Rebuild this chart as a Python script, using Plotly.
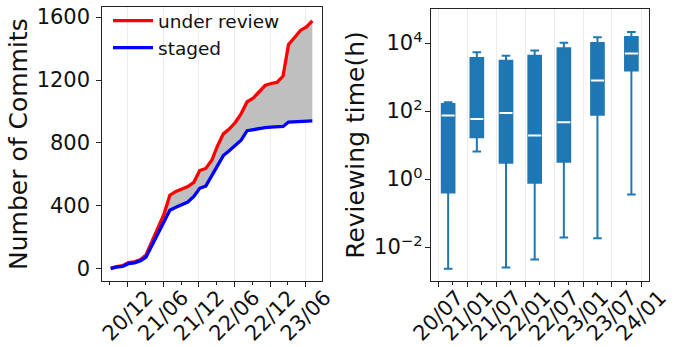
import plotly.graph_objects as go

# ---- left panel data: cumulative commits per month ----
months = ["2020-09-05", "2020-10-05", "2020-11-05", "2020-12-05", "2021-01-05", "2021-02-05",
          "2021-03-05", "2021-04-05", "2021-05-05", "2021-06-05", "2021-07-05", "2021-08-05",
          "2021-09-05", "2021-10-05", "2021-11-05", "2021-12-05", "2022-01-05", "2022-02-05",
          "2022-03-05", "2022-04-05", "2022-05-05", "2022-06-05", "2022-07-05", "2022-08-05",
          "2022-09-05", "2022-10-05", "2022-11-05", "2022-12-05", "2023-01-05", "2023-02-05",
          "2023-03-05", "2023-04-05", "2023-05-05", "2023-06-05", "2023-07-05"]
under_review = [3, 15, 20, 40, 45, 60, 88, 175, 252, 348, 468, 492, 508, 523, 550, 625, 638, 690,
                778, 858, 888, 930, 985, 1062, 1085, 1125, 1165, 1178, 1185, 1225, 1425, 1470,
                1515, 1538, 1576]
staged = [2, 12, 16, 33, 38, 52, 75, 152, 215, 295, 372, 392, 407, 425, 460, 512, 526, 592,
          660, 720, 750, 783, 818, 878, 885, 890, 897, 900, 902, 905, 933, 935, 936, 938, 941]
left_yticks = [0, 400, 800, 1200, 1600]

# ---- right panel data: reviewing time box statistics (hours) ----
box_dates = ["2020-09-01", "2021-03-01", "2021-09-01", "2022-03-01", "2022-09-01",
             "2023-04-01", "2023-11-01"]
lower_fence = [0.0023, 6.4, 0.0025, 0.0043, 0.019, 0.018, 0.35]
q1 = [0.4, 17, 3.0, 0.78, 3.2, 77, 1560]
median = [74, 58, 87, 19, 47, 790, 4900]
q3 = [160, 3650, 3000, 4250, 7000, 10000, 15100]
upper_fence = [182, 5300, 4250, 6000, 10200, 14800, 21000]
right_yticks = [1e-2, 1, 1e2, 1e4]
right_yticktext = ["10<sup>\u22122</sup>", "10<sup>0</sup>", "10<sup>2</sup>", "10<sup>4</sup>"]

FONT = "DejaVu Sans"
BLUE = "#1f77b4"
W, H = 675, 347
TICK_SIZE = 21
TITLE_SIZE = 25

fig = go.Figure()

# fill between curves
fig.add_trace(go.Scatter(x=months, y=staged, mode="lines", line=dict(width=0, color="rgba(0,0,0,0)"),
                         showlegend=False, hoverinfo="skip", xaxis="x", yaxis="y"))
fig.add_trace(go.Scatter(x=months, y=under_review, mode="lines", line=dict(width=0, color="rgba(0,0,0,0)"),
                         fill="tonexty", fillcolor="#bfbfbf", showlegend=False, hoverinfo="skip",
                         xaxis="x", yaxis="y"))
fig.add_trace(go.Scatter(x=months, y=under_review, mode="lines", name="under review",
                         legendgroup="a", legendrank=1,
                         line=dict(width=3.3, color="#ff0000"), xaxis="x", yaxis="y"))
fig.add_trace(go.Scatter(x=months, y=staged, mode="lines", name="staged",
                         legendgroup="b", legendrank=2,
                         line=dict(width=3.3, color="#0000ff"), xaxis="x", yaxis="y"))

# boxes
fig.add_trace(go.Box(x=box_dates, q1=q1, median=median, q3=q3, lowerfence=lower_fence,
                     upperfence=upper_fence, fillcolor=BLUE, line=dict(color=BLUE, width=2),
                     width=80 * 86400000, whiskerwidth=0.68, boxpoints=False,
                     showlegend=False, xaxis="x2", yaxis="y2"))
fig.add_trace(go.Scatter(x=box_dates, y=median, mode="markers",
                         marker=dict(symbol="line-ew", size=9.3, line=dict(width=2, color="white")),
                         showlegend=False, hoverinfo="skip", xaxis="x2", yaxis="y2"))

axis_common = dict(showline=True, mirror=True, linecolor="#222222", linewidth=1,
                   ticks="outside", ticklen=5, tickwidth=1, tickcolor="#222222",
                   tickfont=dict(family=FONT, size=TICK_SIZE, color="#111111"), zeroline=False,
                   automargin=False, ticklabeloverflow="allow")

fig.update_layout(
    width=W, height=H,
    margin=dict(l=0, r=0, t=0, b=0),
    paper_bgcolor="white", plot_bgcolor="white",
    font=dict(family=FONT, size=18, color="#111111"),
    xaxis=dict(domain=[102.3 / W, 321.7 / W], type="date",
               range=["2020-07-24", "2023-08-22"], tickformat="%y/%m",
               dtick="M6", tick0="2020-12-01", tickangle=-45, ticklabelshift=19,
               ticklabelstandoff=-10,
               showgrid=True, gridcolor="#ebebeb", gridwidth=1,
               minor=dict(ticks="outside", ticklen=3, dtick="M3", tick0="2020-09-01",
                          tickcolor="#222222", showgrid=False),
               anchor="y", **axis_common),
    yaxis=dict(domain=[1 - 281 / H, 1 - 7.3 / H], range=[-77, 1662],
               tickvals=left_yticks, showgrid=False, ticklabelstandoff=2,
               title=dict(text="Number of Commits", font=dict(family=FONT, size=TITLE_SIZE, color="#111111"),
                          standoff=1),
               anchor="x", **axis_common),
    xaxis2=dict(domain=[430.7 / W, 649.3 / W], type="date",
                range=["2020-05-14", "2024-02-22"], tickformat="%y/%m",
                dtick="M6", tick0="2020-07-01", tickangle=-45, ticklabelshift=19,
                ticklabelstandoff=-10,
                showgrid=True, gridcolor="#ebebeb", gridwidth=1,
                minor=dict(ticks="outside", ticklen=3, dtick="M3", tick0="2020-10-01",
                           tickcolor="#222222", showgrid=False),
                anchor="y2", **axis_common),
    yaxis2=dict(domain=[1 - 281 / H, 1 - 9 / H], type="log", range=[-3, 5],
                tickvals=right_yticks, ticktext=right_yticktext, showgrid=False,
                ticklabelstandoff=-2,
                title=dict(text="Reviewing time(h)", font=dict(family=FONT, size=TITLE_SIZE, color="#111111"),
                           standoff=2),
                anchor="x2", **axis_common),
    legend=dict(x=108 / W, y=1 - 2 / H, xanchor="left", yanchor="top",
                bgcolor="rgba(0,0,0,0)", font=dict(family=FONT, size=18.5, color="#111111"),
                itemwidth=40, traceorder="grouped", tracegroupgap=0),
)

fig.write_html("out.html")
